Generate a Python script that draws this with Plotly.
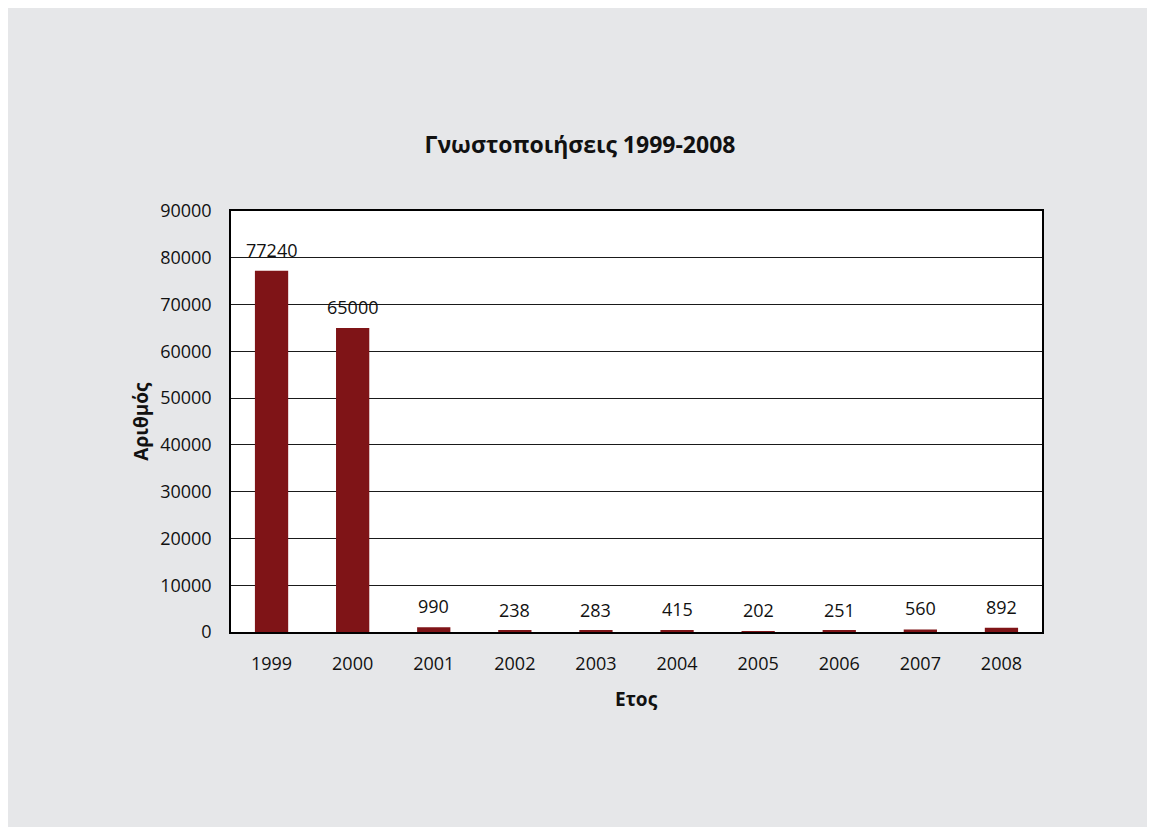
import plotly.graph_objects as go

years = ["1999", "2000", "2001", "2002", "2003", "2004", "2005", "2006", "2007", "2008"]
counts = [77240, 65000, 990, 238, 283, 415, 202, 251, 560, 892]
y_ticks = [0, 10000, 20000, 30000, 40000, 50000, 60000, 70000, 80000, 90000]

title_text = "Γνωστοποιήσεις 1999-2008"
x_title = "Ετος"
y_title = "Αριθμός"

FONT = "Open Sans"
BAR = "#7f1417"
BG = "#e6e7e9"

W, H = 1163, 835
L, T = 223, 203
PW, PH = 811, 421

fig = go.Figure()
fig.add_trace(go.Bar(x=years, y=counts, marker=dict(color=BAR, line=dict(width=0)),
                     hoverinfo="skip"))

for i, v in enumerate(counts):
    fig.add_annotation(x=i, y=v, xref="x", yref="y", text=str(v), showarrow=False,
                       yanchor="middle", yshift=21,
                       font=dict(family=FONT, size=18, color="#111111"))

fig.add_annotation(text=f"<b>{y_title}</b>", xref="paper", yref="paper",
                   x=-0.112, y=0.5, textangle=-90, showarrow=False,
                   xanchor="center", yanchor="middle",
                   font=dict(family=FONT, size=19, color="#111111"))
fig.add_annotation(text=f"<b>{x_title}</b>", xref="paper", yref="paper",
                   x=0.5, y=-0.159, showarrow=False,
                   xanchor="center", yanchor="middle",
                   font=dict(family=FONT, size=19, color="#111111"))

fig.update_layout(
    width=W, height=H,
    margin=dict(l=L, r=W - L - PW, t=T, b=H - T - PH),
    paper_bgcolor=BG, plot_bgcolor="white",
    showlegend=False,
    bargap=0.59,
    title=dict(text=f"<b>{title_text}</b>", x=(580 - 8) / W, xanchor="center",
               y=1 - 137 / H, yanchor="middle", yref="container",
               font=dict(family=FONT, size=23, color="#111111")),
    font=dict(family=FONT, size=18, color="#111111"),
)
fig.update_xaxes(type="category", range=[-0.5, 9.5], showline=True, linecolor="black",
                 linewidth=1.5, mirror=True, ticks="", ticklabelstandoff=15,
                 tickfont=dict(family=FONT, size=18, color="#111111"))
fig.update_yaxes(range=[0, 90000], tickvals=y_ticks, ticktext=[str(t) for t in y_ticks],
                 showline=True, linecolor="black", linewidth=1.5, mirror=True,
                 showgrid=True, gridcolor="#1a1a1a", gridwidth=1, zeroline=False,
                 ticks="", ticklabelstandoff=14,
                 tickfont=dict(family=FONT, size=18, color="#111111"))

fig.write_html("out.html",
               post_script="document.documentElement.style.overflow='hidden';"
                           "document.body.style.overflow='hidden';")
